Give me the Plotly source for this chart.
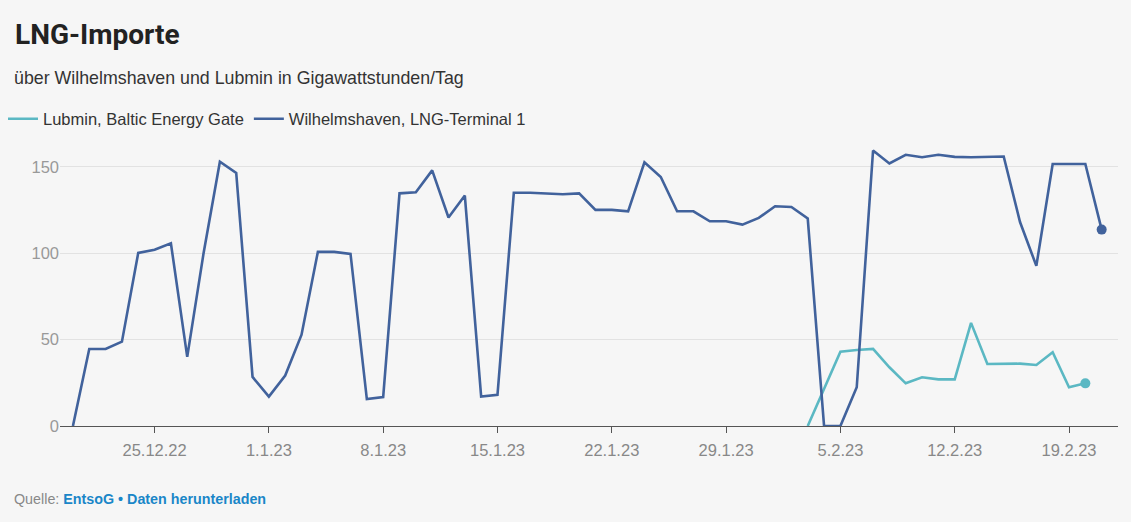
## ----------- imports ----------- ##
import pandas as pd
import plotly.graph_objects as go


## ----------- data (GWh/Tag) ----------- ##
WHV_START = "2022-12-20"
WHV_VALUES = [
    0, 44.6, 44.6, 48.8, 100.2, 102.1, 105.8, 40, 100, 153, 146.5, 28.4,
    17, 29.2, 52.9, 100.8, 100.8, 99.6, 15.6, 16.8, 134.7, 135.3, 148, 120.7,
    133.4, 17, 18, 135, 135, 134.4, 134.2, 134.7, 125.1, 125.1, 124.3, 152.7,
    144.2, 124.3, 124.3, 118.5, 118.5, 116.6, 120.5,
    127.2, 126.8, 120.1, 0, 0, 22.4, 159.5, 152, 157, 155.6, 157, 155.8,
    155.6, 155.8, 156, 118.1, 92.7, 151.7, 151.7, 151.7, 113.7,
]

LUB_START = "2023-02-03"
LUB_VALUES = [
    0, 21, 43, 44, 44.6, 34, 24.7, 28.2, 27, 27, 59.7, 35.9, 36.1, 36.1,
    35.3, 42.7, 22.4, 24.7,
]

TICK_DATES = ["2022-12-25", "2023-01-01", "2023-01-08", "2023-01-15",
              "2023-01-22", "2023-01-29", "2023-02-05", "2023-02-12", "2023-02-19"]
TICK_LABELS = ["25.12.22", "1.1.23", "8.1.23", "15.1.23",
               "22.1.23", "29.1.23", "5.2.23", "12.2.23", "19.2.23"]

## ----------- styles ----------- ##
C_WHV = "#41629c"
C_LUB = "#5bb8c3"
BG = "#f6f6f6"
FONT = "Liberation Sans, Arial, sans-serif"
W, H = 1131, 522
ML, MR, MT, MB = 60, 13, 141, 96
PW, PH = W - ML - MR, H - MT - MB


def px_x(x):
    ## page pixel -> paper coordinate
    return (x - ML) / PW


def px_y(y):
    return (H - MB - y) / PH


def add_series(fig, dates, values, name, color):
    fig.add_trace(go.Scatter(
        x=dates, y=values, mode="lines", name=name,
        line=dict(color=color, width=2.6),
    ))
    ## dot on the latest value
    fig.add_trace(go.Scatter(
        x=[dates[-1]], y=[values[-1]], mode="markers", showlegend=False,
        marker=dict(color=color, size=10), hoverinfo="skip",
    ))


def main():
    whv_dates = pd.date_range(WHV_START, periods=len(WHV_VALUES), freq="D")
    lub_dates = pd.date_range(LUB_START, periods=len(LUB_VALUES), freq="D")

    fig = go.Figure()
    add_series(fig, lub_dates, LUB_VALUES, "Lubmin, Baltic Energy Gate", C_LUB)
    add_series(fig, whv_dates, WHV_VALUES, "Wilhelmshaven, LNG-Terminal 1", C_WHV)

    fig.update_layout(
        width=W, height=H,
        margin=dict(l=ML, r=MR, t=MT, b=MB, autoexpand=False),
        paper_bgcolor=BG, plot_bgcolor=BG,
        font=dict(family=FONT, color="#333"),
        title=dict(
            text="<b>LNG-Importe</b>",
            font=dict(family="Roboto, sans-serif", size=28, color="#222"),
            xref="container", yref="container", x=15 / W, y=1 - 34 / H,
            xanchor="left", yanchor="middle",
        ),
        legend=dict(
            orientation="h", x=px_x(3), y=px_y(119),
            xanchor="left", yanchor="middle",
            font=dict(size=16.5, color="#333"), bgcolor="rgba(0,0,0,0)",
            itemwidth=30, tracegroupgap=0,
        ),
        showlegend=True,
        xaxis=dict(
            range=["2022-12-19 05:00", "2023-02-22 00:00"],
            tickvals=TICK_DATES, ticktext=TICK_LABELS,
            ticks="outside", ticklen=6, tickcolor="#555",
            ticklabelstandoff=3,
            showline=True, linecolor="#555", linewidth=1.2,
            showgrid=False, zeroline=False,
            tickfont=dict(size=16.5, color="#888"),
        ),
        yaxis=dict(
            range=[0, 165], tickvals=[0, 50, 100, 150],
            showgrid=True, gridcolor="#e2e2e2", gridwidth=1.2,
            zeroline=False, showline=False, ticks="",
            tickfont=dict(size=16.5, color="#999"),
        ),
        annotations=[
            dict(
                text="über Wilhelmshaven und Lubmin in Gigawattstunden/Tag",
                xref="paper", yref="paper", x=px_x(12), y=px_y(78),
                xanchor="left", yanchor="middle", showarrow=False,
                font=dict(size=17.8, color="#333"),
            ),
            dict(
                text="Quelle: <b><span style='color:#1a86c8'>EntsoG • Daten herunterladen</span></b>",
                xref="paper", yref="paper", x=px_x(12), y=px_y(499),
                xanchor="left", yanchor="middle", showarrow=False,
                font=dict(size=14.3, color="#888"),
            ),
        ],
    )

    ## drop the browser's default page margin so the figure sits at 0,0
    fig.write_html("out.html", config={"displayModeBar": False},
                   post_script="document.body.style.margin='0';")


if __name__ == "__main__":
    main()
